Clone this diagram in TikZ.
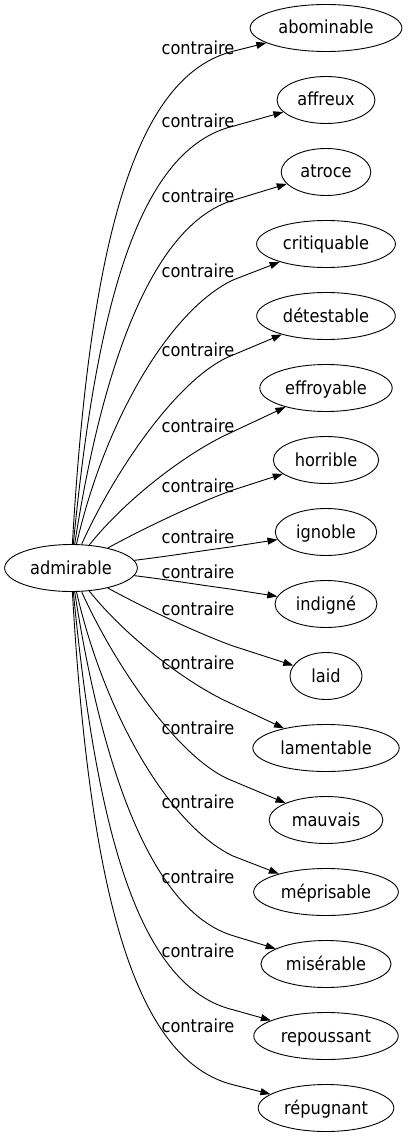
\documentclass[tikz,border=0pt]{standalone}
\usepackage{fontspec}
\setmainfont{DejaVu Sans}[FakeStretch=0.9]
\usetikzlibrary{arrows.meta,shapes.geometric}

\begin{document}
\begin{tikzpicture}[
    x=1pt, y=-1pt,
    >={Triangle[length=10pt,width=7pt]},
    line join=round,
    font=\fontsize{18}{20}\selectfont,
    word/.style={draw, ellipse, line width=0.9pt, inner xsep=6pt, inner ysep=1pt,
        minimum width=72pt, minimum height=47pt, text height=16pt, text depth=4pt},
    rel/.style={inner sep=0pt, text height=16pt, text depth=4pt},
    link/.style={->, line width=0.9pt}
]

\useasboundingbox (0,0) rectangle (407,1139);

% ======================================
% source word and its opposites
% ======================================
\node[word] (admirable) at (71,568) {admirable};

\foreach \name/\word [count=\i from 0] in {abominable/abominable, affreux/affreux,
    atroce/atroce, critiquable/critiquable, detestable/détestable,
    effroyable/effroyable, horrible/horrible, ignoble/ignoble, indigne/indigné,
    laid/laid, lamentable/lamentable, mauvais/mauvais, meprisable/méprisable,
    miserable/misérable, repoussant/repoussant, repugnant/répugnant}
    \node[word] (\name) at (326,{28+72*\i}) {\word};

% ======================================
% relations: upper curves, lower ones mirrored about y=568
% upper/label y/lower/label y/ctrl 1/ctrl 2/bend point
% ======================================
\foreach \up/\lu/\down/\ld/\pax/\pay/\pbx/\pby/\pmx/\pmy in {
    abominable/49/repugnant/1026/90/240/135/75/234/51,
    affreux/122/repoussant/951/97/300/140/148/234/126,
    atroce/197/miserable/877/100/380/148/225/234/200,
    critiquable/272/meprisable/802/105/420/170/310/233/280,
    detestable/350/mauvais/728/115/470/180/375/233/355,
    effroyable/426/lamentable/663/125/500/186/453/230/433,
    horrible/486/laid/609/150/525/200/502/233/490,
    ignoble/537/indigne/572/170/556/200/551/230/547}
{
    \draw[link] (admirable) .. controls (\pax,\pay) and (\pbx,\pby) .. (\pmx,\pmy) -- (\up);
    \draw[link] (admirable) .. controls (\pax,{1136-\pay}) and (\pbx,{1136-\pby})
        .. (\pmx,{1136-\pmy}) -- (\down);
    \node[rel] (lab-\up) at (198,\lu) {contraire};
    \node[rel] (lab-\down) at (198,\ld) {contraire};
}

\end{tikzpicture}
\end{document}
